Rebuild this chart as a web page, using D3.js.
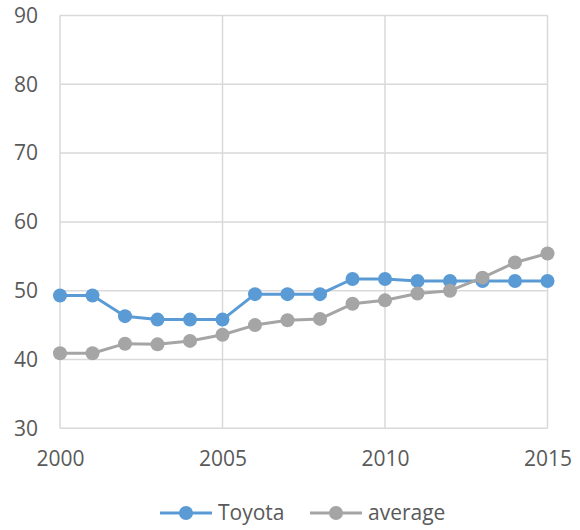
<!DOCTYPE html>
<html><head><meta charset="utf-8">
<script src="https://cdn.jsdelivr.net/npm/d3@7"></script>
<style>body{margin:0;background:#fff}svg{display:block}</style>
</head><body><svg id="c" width="580" height="530"></svg>
<script>
const years = [2000,2001,2002,2003,2004,2005,2006,2007,2008,2009,2010,2011,2012,2013,2014,2015];
const toyota = [49.3,49.3,46.3,45.8,45.8,45.8,49.5,49.5,49.5,51.7,51.7,51.4,51.4,51.4,51.4,51.4];
const average = [40.9,40.9,42.3,42.2,42.7,43.6,45.0,45.7,45.9,48.1,48.6,49.6,50.0,51.9,54.1,55.4];
const xTicks = [2000,2005,2010,2015];
const yTicks = [30,40,50,60,70,80,90];
const seriesNames = ["Toyota","average"];
const colors = ["#5b9bd5","#a5a5a5"];

const svg = d3.select("#c");
const font = "'Open Sans', sans-serif";
const fs = 21;
const x = d3.scaleLinear().domain([2000,2015]).range([60,547.5]);
const y = d3.scaleLinear().domain([30,90]).range([428.3,15.5]);

// gridlines
svg.append("g").selectAll("line").data(yTicks).join("line")
  .attr("x1",x(2000)).attr("x2",x(2015)).attr("y1",d=>y(d)).attr("y2",d=>y(d))
  .attr("stroke","#d9d9d9").attr("stroke-width",1.5);
svg.append("g").selectAll("line").data(xTicks).join("line")
  .attr("x1",d=>x(d)).attr("x2",d=>x(d)).attr("y1",y(30)).attr("y2",y(90))
  .attr("stroke","#d9d9d9").attr("stroke-width",1.5);

// axes labels
const yAxis = d3.axisLeft(y).tickValues(yTicks).tickSize(0).tickPadding(22);
const gy = svg.append("g").attr("transform",`translate(${x(2000)},0)`).call(yAxis);
gy.select(".domain").remove();
gy.selectAll("text").attr("font-family",font).attr("font-size",fs).attr("fill","#595959");

const xAxis = d3.axisBottom(x).tickValues(xTicks).tickFormat(d3.format("d")).tickSize(0).tickPadding(23);
const gx = svg.append("g").attr("transform",`translate(0,${y(30)})`).call(xAxis);
gx.select(".domain").remove();
gx.selectAll("text").attr("font-family",font).attr("font-size",fs).attr("fill","#595959");

const data = [toyota, average];
const line = d3.line().x((d,i)=>x(years[i])).y(d=>y(d));
data.forEach((vals,k)=>{
  const g = svg.append("g");
  g.append("path").attr("d",line(vals)).attr("fill","none").attr("stroke",colors[k]).attr("stroke-width",3).attr("stroke-linejoin","round");
  g.selectAll("circle").data(vals).join("circle")
    .attr("cx",(d,i)=>x(years[i])).attr("cy",d=>y(d)).attr("r",7).attr("fill",colors[k]);
});

// legend
const legX = [160,310];
const ly = 513;
seriesNames.forEach((n,k)=>{
  const g = svg.append("g");
  g.append("line").attr("x1",legX[k]).attr("x2",legX[k]+52).attr("y1",ly).attr("y2",ly).attr("stroke",colors[k]).attr("stroke-width",3);
  g.append("circle").attr("cx",legX[k]+26).attr("cy",ly).attr("r",7).attr("fill",colors[k]);
  g.append("text").attr("x",legX[k]+58).attr("y",ly).attr("dy","0.35em").text(n)
    .attr("font-family",font).attr("font-size",fs).attr("fill","#595959");
});
</script></body></html>
